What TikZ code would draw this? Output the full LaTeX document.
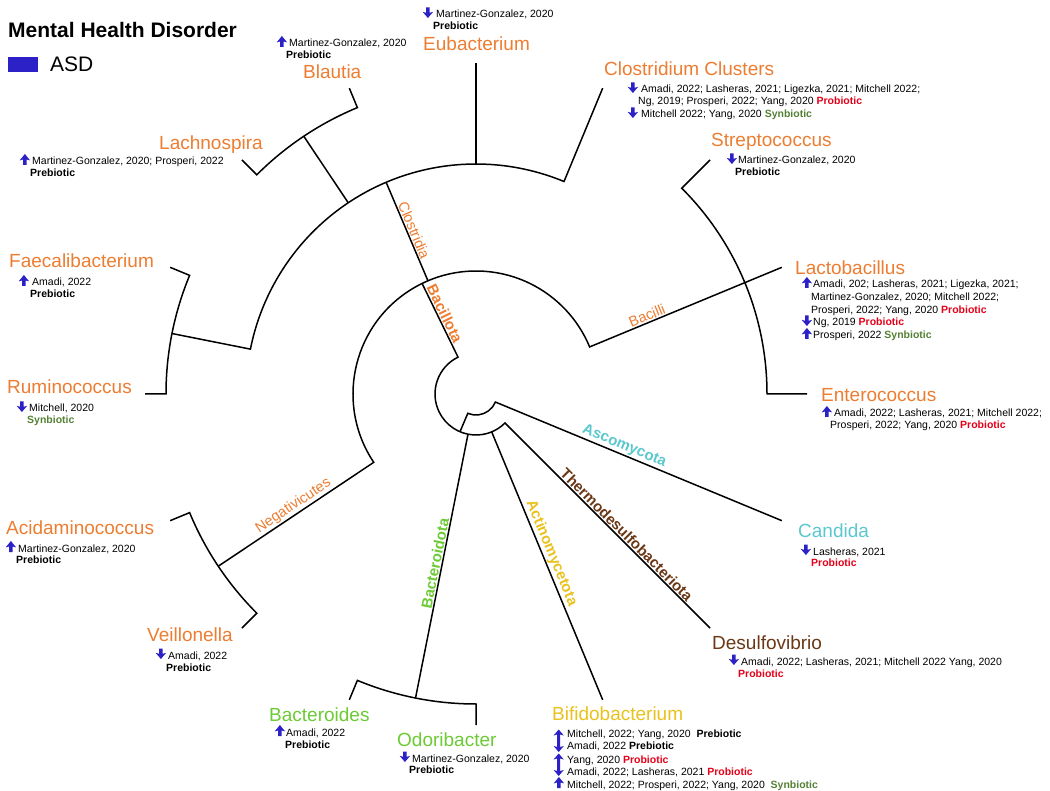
\documentclass[tikz,border=0pt]{standalone}
\usepackage{fontspec}
\setmainfont{Liberation Sans}
\definecolor{firm}{HTML}{ED7D31}
\definecolor{bactg}{HTML}{6CCB35}
\definecolor{actino}{HTML}{E9C21D}
\definecolor{asco}{HTML}{5BC8CF}
\definecolor{desulf}{HTML}{6B3816}
\definecolor{arrowblue}{HTML}{2B21C6}
\definecolor{pro}{HTML}{E6001A}
\definecolor{syn}{HTML}{548235}
\newcommand\PreB{\textbf{Prebiotic}}
\newcommand\ProB{\textbf{\color{pro}Probiotic}}
\newcommand\SynB{\textbf{\color{syn}Synbiotic}}
\newcommand\CitLine[4]{\node[cit] (#1) at (#2,#3) {#4};}
\tikzset{
  uparr/.pic={\fill[arrowblue] (3.2,0) -- (3.2,-5.5) .. controls (2,-5) .. (-0.3,-4.6) -- (4.9,-11) -- (10.1,-4.6) .. controls (7.8,-5) .. (6.6,-5.5) -- (6.6,0) -- cycle;},
  dnarr/.pic={\fill[arrowblue] (3.2,-10.5) -- (3.2,-5.2) .. controls (2,-5.7) .. (-0.3,-6.1) -- (4.9,0) -- (10.1,-6.1) .. controls (7.8,-5.7) .. (6.6,-5.2) -- (6.6,-10.5) -- cycle;},
  udarr/.pic={\fill[arrowblue] (4.7,-22.5) -- (9.8,-16.5) .. controls (7.6,-17) .. (6.2,-17.5) -- (6.2,-5) .. controls (7.6,-5.5) .. (9.8,-6) -- (4.7,0) -- (-0.4,-6) .. controls (1.8,-5.5) .. (3.2,-5) -- (3.2,-17.5) .. controls (1.8,-17) .. (-0.4,-16.5) -- cycle;},
  genus/.style={inner sep=0pt, anchor=base west, font=\fontsize{19}{22}\selectfont},
  cit/.style={inner sep=0pt, anchor=base west, font=\fontsize{10.5}{12}\selectfont},
  clade/.style={inner sep=1.5pt, anchor=south, font=\fontsize{14.5}{17}\selectfont, text=firm},
  phy/.style={inner sep=1.5pt, anchor=south, font=\bfseries\fontsize{15}{18}\selectfont},
  tree/.style={line width=1.5pt, black, line join=miter},
}
\begin{document}
\begin{tikzpicture}[x=1pt,y=-1pt]
\fill[white] (0,0) rectangle (1050,791);
\useasboundingbox (0,0) rectangle (1050,791);

% title and legend
\node[inner sep=0pt, anchor=base west, font=\bfseries\fontsize{21}{25}\selectfont] (title) at (8,38) {Mental Health Disorder};
\fill[arrowblue] (8,57) rectangle (38,72);
\node[inner sep=0pt, anchor=base west, font=\fontsize{21}{24}\selectfont] (asd) at (50,72) {ASD};

% tree
\begin{scope}[shift={(476,394)}]
  \coordinate (rA) at (116:41pt);
  \coordinate (rB) at (247:41pt);
  \coordinate (rBact) at (258.75:41pt);
  \coordinate (rActi) at (292.5:41pt);
  \coordinate (sA) at (247:21pt);
  \coordinate (bacN) at (116:123pt);
  \coordinate (cloA) at (113:123pt);
  \coordinate (cloN) at (113:230pt);
  \coordinate (negLeaf) at (213.75:310pt);
  \coordinate (rumNode) at (168.75:310pt);
  % root arcs
  \draw[tree] (bacN) -- (rA) arc[start angle=116, end angle=315, radius=41pt] -- (315:331pt);
  \draw[tree] (rB) -- (sA) arc[start angle=247, end angle=337.5, radius=21pt] -- (337.5:331pt);
  % Bacillota
  \draw[tree] (negLeaf) -- (213.75:123pt) arc[start angle=213.75, end angle=22.5, radius=123pt] -- (22.5:331pt);
  \draw[tree] (cloA) -- (cloN);
  % Clostridia
  \draw[tree] (rumNode) -- (168.75:230pt) arc[start angle=168.75, end angle=67.5, radius=230pt] -- (67.5:331pt);
  \draw[tree] (90:230pt) -- (90:331pt);
  \draw[tree] (123.75:230pt) -- (123.75:310pt);
  \draw[tree] (112.5:331pt) -- (112.5:310pt) arc[start angle=112.5, end angle=135, radius=310pt] -- (135:331pt);
  \draw[tree] (157.5:331pt) -- (157.5:310pt) arc[start angle=157.5, end angle=180, radius=310pt] -- (180:331pt);
  % Bacilli
  \draw[tree] (45:331pt) -- (45:291pt) arc[start angle=45, end angle=0, radius=291pt] -- (0:331pt);
  % Negativicutes
  \draw[tree] (202.5:331pt) -- (202.5:310pt) arc[start angle=202.5, end angle=225, radius=310pt] -- (225:331pt);
  % Actinomycetota
  \draw[tree] (rActi) -- (292.5:331pt);
  % Bacteroidota
  \draw[tree] (rBact) -- (258.75:310pt);
  \draw[tree] (247.5:331pt) -- (247.5:310pt) arc[start angle=247.5, end angle=270, radius=310pt] -- (270:331pt);

  % clade labels
  \node[phy, text=firm, rotate=-64] (lBacillota) at (116:86pt) {Bacillota};
  \node[clade, rotate=-67] (lClostridia) at (113:175pt) {Clostridia};
  \node[clade, rotate=22.5] (lBacilli) at (22.5:188pt) {Bacilli};
  \node[clade, rotate=33.75] (lNeg) at (213.75:214pt) {Negativicutes};
  \node[phy, text=asco, rotate=-22.5] (lAsco) at (337.5:157pt) {Ascomycota};
  \node[phy, text=desulf, rotate=-45] (lThermo) at (315:206pt) {Thermodesulfobacteriota};
  \node[phy, text=actino, rotate=-67.5] (lActino) at (292.5:176pt) {Actinomycetota};
  \node[phy, text=bactg, rotate=78.75] (lBacteroidota) at (258.75:174pt) {Bacteroidota};
\end{scope}

% Blautia
\node[genus, text=firm] (blautia) at (303,79) {Blautia};
\pic at (277,47) {uparr};
\CitLine{blautia1}{289}{47}{Martinez-Gonzalez, 2020}
\CitLine{blautia2}{286}{59}{\PreB}

% Eubacterium
\node[genus, text=firm] (eubact) at (423,51) {Eubacterium};
\pic at (423,18) {dnarr};
\CitLine{eubact1}{436}{18}{Martinez-Gonzalez, 2020}
\CitLine{eubact2}{433}{29.5}{\PreB}

% Lachnospira
\node[genus, text=firm] (lachno) at (159,150) {Lachnospira};
\pic at (20,165) {uparr};
\CitLine{lachno1}{32}{165}{Martinez-Gonzalez, 2020; Prosperi, 2022}
\CitLine{lachno2}{30}{176.5}{\PreB}

% Clostridium Clusters
\node[genus, text=firm] (clost) at (604,76) {Clostridium Clusters};
\pic at (628,93) {dnarr};
\CitLine{clost1}{641}{93}{Amadi, 2022; Lasheras, 2021; Ligezka, 2021; Mitchell 2022;}
\CitLine{clost2}{638}{105}{Ng, 2019; Prosperi, 2022; Yang, 2020 \ProB}
\pic at (628,118) {dnarr};
\CitLine{clost3}{641}{118}{Mitchell 2022; Yang, 2020 \SynB}

% Streptococcus
\node[genus, text=firm] (strep) at (711,147) {Streptococcus};
\pic at (727,164) {dnarr};
\CitLine{strep1}{738}{164}{Martinez-Gonzalez, 2020}
\CitLine{strep2}{735}{176}{\PreB}

% Lactobacillus
\node[genus, text=firm] (lacto) at (795,275) {Lactobacillus};
\pic at (802,288) {uparr};
\CitLine{lacto1}{813}{288}{Amadi, 202; Lasheras, 2021; Ligezka, 2021;}
\CitLine{lacto2}{811}{301}{Martinez-Gonzalez, 2020; Mitchell 2022;}
\CitLine{lacto3}{811}{314}{Prosperi, 2022; Yang, 2020 \ProB}
\pic at (802,326) {dnarr};
\CitLine{lacto4}{813}{326}{Ng, 2019 \ProB}
\pic at (802,339) {uparr};
\CitLine{lacto5}{813}{339}{Prosperi, 2022 \SynB}

% Enterococcus
\node[genus, text=firm] (entero) at (821,402) {Enterococcus};
\pic at (822,417) {uparr};
\CitLine{entero1}{834}{417}{Amadi, 2022; Lasheras, 2021; Mitchell 2022;}
\CitLine{entero2}{830}{429}{Prosperi, 2022; Yang, 2020 \ProB}

% Faecalibacterium
\node[genus, text=firm] (faecali) at (9,268) {Faecalibacterium};
\pic at (19,286) {uparr};
\CitLine{faecali1}{32}{286}{Amadi, 2022}
\CitLine{faecali2}{30}{297.5}{\PreB}

% Ruminococcus
\node[genus, text=firm] (rumino) at (7,394) {Ruminococcus};
\pic at (17,412) {dnarr};
\CitLine{rumino1}{29}{412}{Mitchell, 2020}
\CitLine{rumino2}{27}{424}{\SynB}

% Acidaminococcus
\node[genus, text=firm] (acida) at (6,534) {Acidaminococcus};
\pic at (6,552) {uparr};
\CitLine{acida1}{18}{552}{Martinez-Gonzalez, 2020}
\CitLine{acida2}{16}{563.5}{\PreB}

% Veillonella
\node[genus, text=firm] (veillo) at (147,641) {Veillonella};
\pic at (156,659) {dnarr};
\CitLine{veillo1}{168}{659}{Amadi, 2022}
\CitLine{veillo2}{166}{671}{\PreB}

% Candida
\node[genus, text=asco] (candida) at (798,537) {Candida};
\pic at (801,555) {dnarr};
\CitLine{candida1}{813}{555}{Lasheras, 2021}
\CitLine{candida2}{811}{566.5}{\ProB}

% Desulfovibrio
\node[genus, text=desulf] (desulfo) at (712,649) {Desulfovibrio};
\pic at (729,665) {dnarr};
\CitLine{desulfo1}{741}{665}{Amadi, 2022; Lasheras, 2021; Mitchell 2022 Yang, 2020}
\CitLine{desulfo2}{738}{677}{\ProB}

% Bacteroides
\node[genus, text=bactg] (bacteroides) at (269,721) {Bacteroides};
\pic at (275,736) {uparr};
\CitLine{bacteroides1}{286}{736}{Amadi, 2022}
\CitLine{bacteroides2}{285}{748}{\PreB}

% Odoribacter
\node[genus, text=bactg] (odori) at (397,746) {Odoribacter};
\pic at (400,762) {dnarr};
\CitLine{odori1}{412}{762}{Martinez-Gonzalez, 2020}
\CitLine{odori2}{409}{773.5}{\PreB}

% Bifidobacterium
\node[genus, text=actino] (bifido) at (552,720) {Bifidobacterium};
\pic at (554,752) {udarr};
\CitLine{bifido1}{567}{737}{Mitchell, 2022; Yang, 2020\ \ \PreB}
\CitLine{bifido2}{567}{749}{Amadi, 2022 \PreB}
\pic at (554,776) {udarr};
\CitLine{bifido3}{567}{763.5}{Yang, 2020 \ProB}
\CitLine{bifido4}{567}{775}{Amadi, 2022; Lasheras, 2021 \ProB}
\pic at (554,788) {uparr};
\CitLine{bifido5}{567}{788}{Mitchell, 2022; Prosperi, 2022; Yang, 2020\ \ \SynB}
\end{tikzpicture}
\end{document}
